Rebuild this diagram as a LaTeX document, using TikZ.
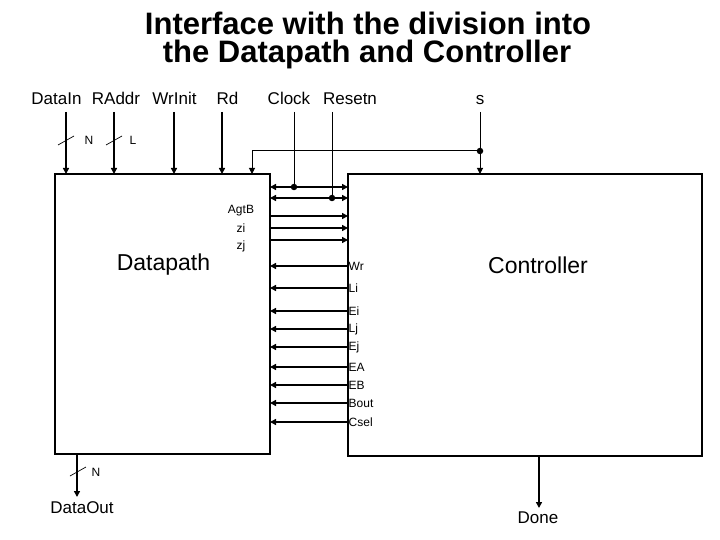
\documentclass[tikz,border=0pt]{standalone}
\usepackage{fontspec}
\setmainfont{Liberation Sans}
\usetikzlibrary{arrows.meta, positioning, calc}
\tikzset{
  block/.style={
    draw,
    rectangle,
    line width=1.2pt,
    outer sep=0pt,
    inner sep=0pt
  },
  titletext/.style={
    font=\bfseries\fontsize{31}{34}\selectfont,
    inner sep=0pt
  },
  pintext/.style={
    font=\fontsize{17}{20}\selectfont,
    inner sep=0pt
  },
  sigtext/.style={
    font=\fontsize{12}{14}\selectfont,
    inner sep=1pt
  },
  bigtext/.style={
    font=\fontsize{23}{26}\selectfont,
    inner sep=0pt
  },
  bigarrow/.style={
    -{Triangle[length=6pt,width=6pt]},
    line width=2.4pt
  },
  thinarrow/.style={
    -{Triangle[length=6pt,width=6pt]},
    line width=1pt
  },
  busarrow/.style={
    {Triangle[length=6pt,width=6pt]}-{Triangle[length=6pt,width=6pt]},
    line width=2.4pt
  },
  wire/.style={
    line width=1pt
  },
  junction/.style={
    circle,
    fill,
    inner sep=0pt,
    minimum size=6.5pt
  },
  busmark/.style={
    line width=0.7pt
  }
}

\begin{document}
\begin{tikzpicture}[x=1pt, y=-1pt]
\useasboundingbox (0,0) rectangle (720,540);

% --- Titre ---
\node[titletext, anchor=base] (title1) at (368,35) {Interface with the division into};
\node[titletext, anchor=base] (title2) at (367,63) {the Datapath and Controller};

% --- Blocs ---
\node[block, minimum width=215pt, minimum height=280pt] (dp) at (162.5,314) {};
\node[block, minimum width=354pt, minimum height=282pt] (ctl) at (525,315) {};
\node[bigtext] (dpname) at (163.5,265) {Datapath};
\node[bigtext] (ctlname) at (538,265) {Controller};

% --- Entrées du haut ---
\node[pintext, anchor=base] (lbDataIn) at (56.5,105) {DataIn};
\node[pintext, anchor=base] (lbRAddr) at (116,105) {RAddr};
\node[pintext, anchor=base] (lbWrInit) at (174.5,105) {WrInit};
\node[pintext, anchor=base] (lbRd) at (227.5,105) {Rd};
\node[pintext, anchor=base] (lbClock) at (289,105) {Clock};
\node[pintext, anchor=base] (lbResetn) at (350,105) {Resetn};
\node[pintext, anchor=base] (lbs) at (480,105) {s};

\foreach \x/\n in {66/inDataIn, 114/inRAddr, 174/inWrInit, 222/inRd} {
  \coordinate (\n) at (\x,112);
  \draw[bigarrow] (\n) -- (\n |- dp.north);
}

% --- Largeurs des bus ---
\draw[busmark] (58,145) -- (74,136);
\node[sigtext] (wDataIn) at (89,140) {N};
\draw[busmark] (106,145) -- (122,136);
\node[sigtext] (wRAddr) at (133,140) {L};

% --- Clock et Resetn ---
\coordinate (inClock) at (294,112);
\coordinate (inResetn) at (332,112);
\node[junction] (dotClock) at (294,187) {};
\node[junction] (dotResetn) at (332,198) {};
\draw[wire] (inClock) -- (dotClock);
\draw[wire] (inResetn) -- (dotResetn);
\draw[busarrow] (dp.east |- dotClock) -- (ctl.west |- dotClock);
\draw[busarrow] (dp.east |- dotResetn) -- (ctl.west |- dotResetn);

% --- Entrée s ---
\coordinate (ins) at (480,112);
\coordinate (sTurn) at (252,151);
\node[junction] (dots) at (480,151) {};
\draw[thinarrow] (ins) -- (ins |- ctl.north);
\draw[thinarrow] (dots) -- (sTurn) -- (sTurn |- dp.north);

% --- Etats vers le controleur ---
\foreach \y/\n in {216/AgtB, 228/zi, 240/zj} {
  \coordinate (row\n) at (0,\y);
  \draw[bigarrow] (dp.east |- row\n) -- (ctl.west |- row\n);
}
\node[sigtext] (lbAgtB) at (241,211) {AgtB};
\node[sigtext] (lbzi) at (241,228) {zi};
\node[sigtext] (lbzj) at (241,246) {zj};

% --- Commandes vers le datapath ---
\foreach \y/\n in {266/Wr, 288/Li, 311/Ei, 329/Lj, 347/Ej, 367/EA, 385/EB, 403/Bout, 422/Csel} {
  \coordinate (row\n) at (0,\y);
  \draw[bigarrow] (ctl.west |- row\n) -- (dp.east |- row\n);
  \node[sigtext, anchor=west, inner sep=0.5pt] (lb\n) at (ctl.west |- row\n) {\n};
}

% --- Sorties ---
\coordinate (outData) at (77,497);
\draw[bigarrow] (outData |- dp.south) -- (outData);
\draw[busmark] (70,476) -- (86,467);
\node[sigtext] (wDataOut) at (96,472) {N};
\node[pintext] (lbDataOut) at (82,508) {DataOut};

\coordinate (outDone) at (539,508);
\draw[bigarrow] (outDone |- ctl.south) -- (outDone);
\node[pintext] (lbDone) at (538,518) {Done};

\end{tikzpicture}
\end{document}
